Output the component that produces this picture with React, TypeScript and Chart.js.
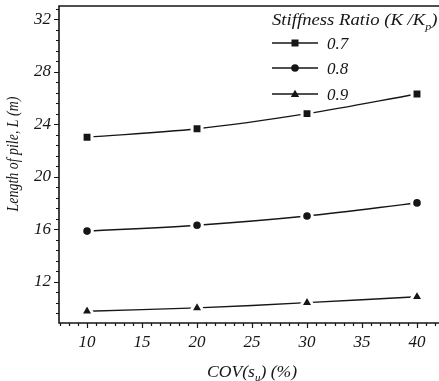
import { useEffect, useRef } from 'react';
import { Chart, registerables } from 'chart.js';

Chart.register(...registerables);

const COV = [10, 20, 30, 40];
const L_07 = [23.0, 23.65, 24.8, 26.3];
const L_08 = [15.85, 16.3, 17.0, 18.0];
const L_09 = [9.75, 10.0, 10.4, 10.85];
const SERIES_LABELS = ['0.7', '0.8', '0.9'];
const SERIES_MARKERS = ['rect', 'circle', 'triangle'];
const X_TICKS = [10, 15, 20, 25, 30, 35, 40];
const Y_TICKS = [12, 16, 20, 24, 28, 32];

const INK = '#161616';
const SERIF = '"Liberation Serif", "Times New Roman", serif';

type Part = { t: string; sub?: boolean };

function drawRich(
  ctx: CanvasRenderingContext2D,
  parts: Part[],
  x: number,
  y: number,
  size: number,
  align: 'left' | 'center',
  stretch = 1
) {
  const main = `italic ${size}px ${SERIF}`;
  const small = `italic ${Math.round(size * 0.62)}px ${SERIF}`;
  let total = 0;
  const widths = parts.map((p) => {
    ctx.font = p.sub ? small : main;
    const w = ctx.measureText(p.t).width;
    total += w;
    return w;
  });
  ctx.save();
  ctx.translate(x, y);
  ctx.scale(stretch, 1);
  let cx = align === 'center' ? -total / 2 : 0;
  ctx.textAlign = 'left';
  ctx.textBaseline = 'alphabetic';
  parts.forEach((p, i) => {
    ctx.font = p.sub ? small : main;
    ctx.fillText(p.t, cx, p.sub ? size * 0.28 : 0);
    cx += widths[i];
  });
  ctx.restore();
}

function marker(ctx: CanvasRenderingContext2D, style: string, x: number, y: number) {
  ctx.beginPath();
  if (style === 'rect') {
    ctx.rect(x - 3.5, y - 3.5, 7, 7);
  } else if (style === 'circle') {
    ctx.arc(x, y, 3.8, 0, Math.PI * 2);
  } else {
    ctx.moveTo(x, y - 4.2);
    ctx.lineTo(x + 4.2, y + 3);
    ctx.lineTo(x - 4.2, y + 3);
    ctx.closePath();
  }
  ctx.fill();
}

const decor = {
  id: 'decor',
  afterDraw(chart: any) {
    const { ctx, chartArea: a } = chart;
    const x = chart.scales.x;
    const y = chart.scales.y;
    ctx.save();
    ctx.strokeStyle = INK;
    ctx.fillStyle = INK;
    // frame
    ctx.lineWidth = 1.6;
    ctx.beginPath();
    ctx.moveTo(a.right + 2, a.top);
    ctx.lineTo(a.left, a.top);
    ctx.lineTo(a.left, a.bottom);
    ctx.lineTo(a.right + 2, a.bottom);
    ctx.stroke();
    // x ticks (major every 5, minor every 5/6)
    ctx.lineWidth = 1.2;
    ctx.beginPath();
    for (let i = -6; i < 60; i++) {
      const v = 10 + (i * 5) / 6;
      if (v < x.min || v > x.max) continue;
      const px = Math.round(x.getPixelForValue(v)) + 0.5;
      const major = i % 6 === 0;
      ctx.moveTo(px, a.bottom);
      ctx.lineTo(px, a.bottom + (major ? 5 : 3));
    }
    // y ticks (major every 4, minor every 0.8)
    for (let i = -6; i < 40; i++) {
      const v = 12 + i * 0.8;
      if (v < y.min || v > y.max) continue;
      const py = Math.round(y.getPixelForValue(v)) + 0.5;
      const major = i % 5 === 0;
      ctx.moveTo(a.left, py);
      ctx.lineTo(a.left - (major ? 5 : 3), py);
    }
    ctx.stroke();

    // axis titles
    drawRich(ctx, [{ t: 'COV(s' }, { t: 'u', sub: true }, { t: ') (%)' }], 252, 377, 16, 'center', 1.1);
    ctx.save();
    ctx.translate(18, 154);
    ctx.rotate(-Math.PI / 2);
    drawRich(ctx, [{ t: 'Length of pile, L (m)' }], 0, 0, 16, 'center', 0.87);
    ctx.restore();

    // legend
    drawRich(ctx, [{ t: 'Stiffness Ratio (K' }, { t: ' /K' }, { t: 'p', sub: true }, { t: ')' }], 272, 25, 17, 'left', 1.1);
    const rows = [43, 68, 94];
    chart.data.datasets.forEach((ds: any, i: number) => {
      const ry = rows[i];
      ctx.lineWidth = 1.4;
      ctx.beginPath();
      ctx.moveTo(272, ry);
      ctx.lineTo(318, ry);
      ctx.stroke();
      marker(ctx, SERIES_MARKERS[i], 295, ry);
      drawRich(ctx, [{ t: ds.label }], 327, ry + 6, 17, 'left');
    });
    ctx.restore();
  },
};

function makeSeries(values: number[], i: number) {
  const style = SERIES_MARKERS[i];
  const r = style === 'rect' ? 7 : style === 'circle' ? 5.3 : 7.6;
  return {
    label: SERIES_LABELS[i],
    data: COV.map((c, k) => ({ x: c, y: values[k] })),
    borderColor: INK,
    borderWidth: 1.4,
    tension: 0.35,
    pointStyle: style,
    pointRadius: r,
    pointBackgroundColor: INK,
    pointBorderColor: '#ffffff',
    pointBorderWidth: 3,
    fill: false,
  };
}

const zeroPad = (s: any) => {
  s.paddingTop = 0;
  s.paddingBottom = 0;
  s.paddingLeft = 0;
  s.paddingRight = 0;
};

export default function App() {
  const ref = useRef<HTMLCanvasElement | null>(null);
  useEffect(() => {
    if (!ref.current) return;
    const chart = new Chart(ref.current, {
      type: 'line',
      data: {
        datasets: [makeSeries(L_07, 0), makeSeries(L_08, 1), makeSeries(L_09, 2)],
      },
      options: {
        animation: false,
        responsive: false,
        events: [],
        layout: { autoPadding: false, padding: { top: 6, right: 0, left: 0, bottom: 0 } },
        plugins: { legend: { display: false }, tooltip: { enabled: false } },
        scales: {
          x: {
            type: 'linear',
            min: 7.45,
            max: 42,
            grid: { display: false, drawTicks: false },
            border: { display: false },
            afterBuildTicks: (s: any) => {
              s.ticks = X_TICKS.map((v) => ({ value: v }));
            },
            afterFit: (s: any) => {
              s.height = 58;
              zeroPad(s);
            },
            ticks: {
              padding: 9,
              color: INK,
              maxRotation: 0,
              autoSkip: false,
              font: { family: SERIF, style: 'italic', size: 17 },
            },
          },
          y: {
            type: 'linear',
            min: 8.85,
            max: 33,
            grid: { display: false, drawTicks: false },
            border: { display: false },
            afterBuildTicks: (s: any) => {
              s.ticks = Y_TICKS.map((v) => ({ value: v }));
            },
            afterFit: (s: any) => {
              s.width = 59;
              zeroPad(s);
            },
            ticks: {
              padding: 8,
              color: INK,
              autoSkip: false,
              font: { family: SERIF, style: 'italic', size: 17 },
            },
          },
        },
      },
      plugins: [decor],
    });
    return () => chart.destroy();
  }, []);
  return (
    <div style={{ position: 'fixed', left: 0, top: 0, width: 439, height: 381, background: '#fff' }}>
      <canvas ref={ref} width={439} height={381} style={{ display: 'block' }} />
    </div>
  );
}
